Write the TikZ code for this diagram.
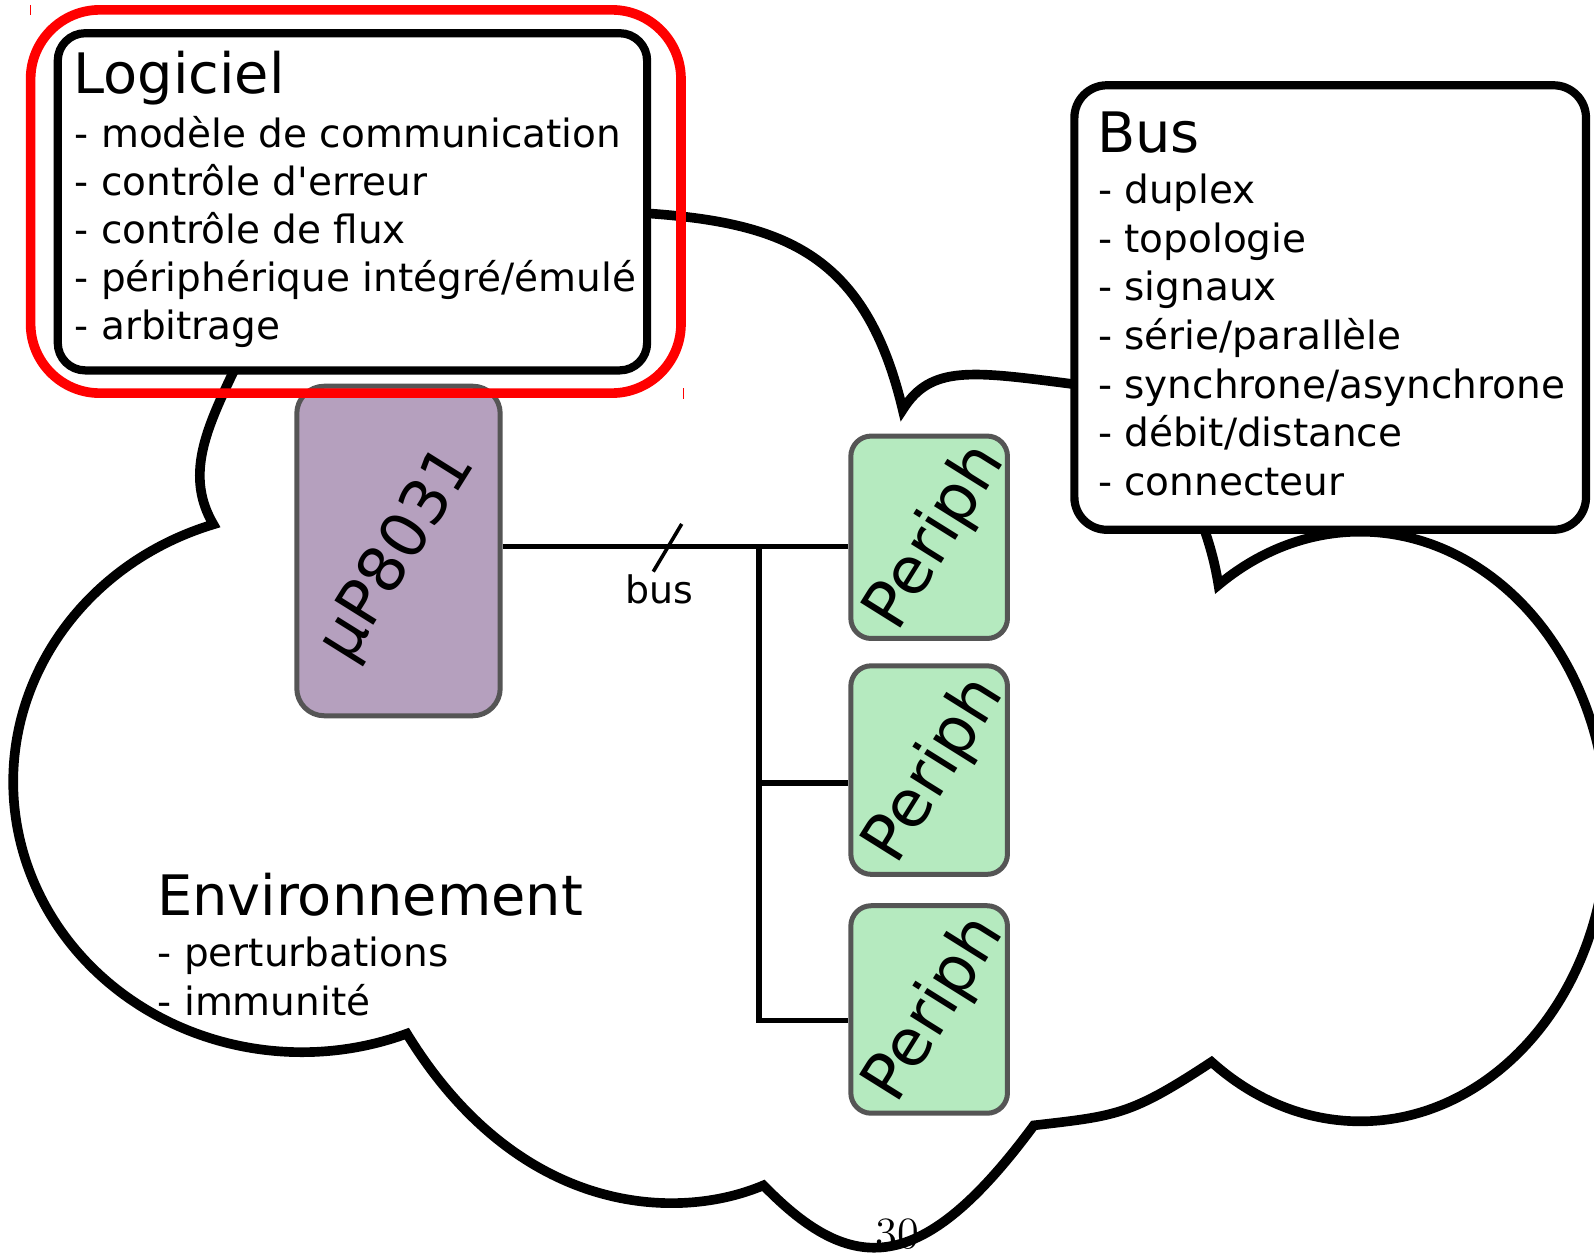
\documentclass[tikz,border=0pt]{standalone}
\usepackage{fontspec}
\newfontfamily\dv[Ligatures=TeXOff]{DejaVu Sans}
\definecolor{mupurple}{RGB}{181,160,190}
\definecolor{pgreen}{RGB}{181,234,191}
\definecolor{bordergray}{RGB}{85,85,85}
\begin{document}
\begin{tikzpicture}[x=0.01cm,y=-0.01cm,
  cloudline/.style={line width=2.7pt, draw=black},
  callout/.style={draw=black, line width=2.3pt, fill=white, rounded corners=0.27cm, inner sep=0pt},
  chip/.style={draw=bordergray, line width=1.4pt, rounded corners=0.27cm, inner sep=0pt},
  wire/.style={line width=1.55pt, draw=black},
  head/.style={font=\dv\fontsize{15.6}{18}\selectfont, inner sep=0pt, anchor=base west},
  item/.style={font=\dv\fontsize{10.9}{13}\selectfont, inner sep=0pt, anchor=base west},
  rot/.style={font=\dv\fontsize{17.6}{20}\selectfont, inner sep=0pt, rotate=58}]
\useasboundingbox (0,0) rectangle (1568,1232);
\clip (0,0) rectangle (1568,1232);

% cloud
\draw[cloudline]
 (209.9,515.8) .. controls (111.4,545.5) and (38.0,623.1) .. (18.2,718.2)
 .. controls (-1.5,813.4) and (35.5,911.0) .. (114.9,973.2)
 .. controls (194.4,1035.3) and (303.7,1052.1) .. (400.2,1016.8)
 .. controls (510,1196) and (666,1202) .. (751,1166)
 .. controls (837.6,1254.9) and (906.4,1256.9) .. (1017,1107)
 .. controls (1098.5,1097.6) and (1111.9,1097.2) .. (1191.8,1044.6)
 .. controls (1264.7,1110.2) and (1362.4,1121.5) .. (1444.5,1073.7)
 .. controls (1526.7,1025.8) and (1579.4,927.1) .. (1581.0,818.1)
 .. controls (1582.6,709.0) and (1532.8,608.2) .. (1452.1,557.0)
 .. controls (1371.4,505.7) and (1273.5,512.9) .. (1198.6,575.4)
 .. controls (1183,477) and (1116.5,385.7) .. (1057,378)
 .. controls (956,365) and (915.7,358.7) .. (888,403)
 .. controls (851.7,250.6) and (772.7,219.7) .. (639,210)
 .. controls (559,204) and (272,277) .. (229,367)
 .. controls (202.1,423.5) and (182.2,468.8) .. cycle;

% chips
\node[chip, fill=mupurple, minimum width=2.00cm, minimum height=3.24cm] (mu) at (392,542) {};
\node[chip, fill=pgreen, rounded corners=0.2cm, minimum width=1.54cm, minimum height=1.99cm] (p1) at (914,528.5) {};
\node[chip, fill=pgreen, rounded corners=0.2cm, minimum width=1.54cm, minimum height=2.05cm] (p2) at (914,757.5) {};
\node[chip, fill=pgreen, rounded corners=0.2cm, minimum width=1.54cm, minimum height=2.04cm] (p3) at (914,993) {};

\node[rot] (mut) at (392,546) {µP8031};
\node[rot, font=\dv\fontsize{18.2}{20}\selectfont] (p1t) at (921,529) {Periph};
\node[rot, font=\dv\fontsize{18.2}{20}\selectfont] (p2t) at (920,758) {Periph};
\node[rot, font=\dv\fontsize{18.2}{20}\selectfont] (p3t) at (920,993) {Periph};

% bus wiring
\coordinate (j1) at (746.8,537.4);
\coordinate (j2) at (746.8,770);
\coordinate (j3) at (746.8,1004);
\draw[wire] (mu.east |- j1) -- (p1.west |- j1);
\draw[wire] (j1) -- (j3) -- (p3.west |- j3);
\draw[wire] (j2) -- (p2.west |- j2);
\coordinate (tk1) at (642.6,562.3);
\coordinate (tk2) at (670.6,515.4);
\draw[line width=1pt] (tk1) -- (tk2);
\node[item, font=\dv\fontsize{10.6}{13}\selectfont] (buslbl) at (614.6,593.5) {bus};

% callouts
\node[callout, minimum width=5.794cm, minimum height=3.315cm] (logbox) at (346.7,198.5) {};
\node[callout, rounded corners=0.32cm, minimum width=5.03cm, minimum height=4.37cm] (busbox) at (1308.5,302.5) {};
\node[draw=red, line width=2.7pt, rounded corners=0.68cm, minimum width=6.394cm, minimum height=3.768cm, inner sep=0pt] (sel) at (350,198.2) {};
\coordinate (rk1a) at (29.9,4.9);
\coordinate (rk1b) at (29.9,14.8);
\coordinate (rk2a) at (672,382);
\coordinate (rk2b) at (672,392);
\draw[red, line width=0.35pt] (rk1a) -- (rk1b);
\draw[red, line width=0.35pt] (rk2a) -- (rk2b);

% Logiciel texts
\node[head] (logh) at (71.5,91.8) {Logiciel};
\node[item] (l1) at (72.8,144.6) {- modèle de communication};
\node[item] (l2) at (72.8,192.0) {- contrôle d'erreur};
\node[item] (l3) at (72.8,239.4) {- contrôle de flux};
\node[item] (l4) at (72.8,286.8) {- périphérique intégré/émulé};
\node[item] (l5) at (72.8,334.2) {- arbitrage};

% Bus texts
\node[head] (bush) at (1078.7,149.8) {Bus};
\node[item] (b1) at (1079.5,200.0) {- duplex};
\node[item] (b2) at (1079.5,247.9) {- topologie};
\node[item] (b3) at (1079.5,295.8) {- signaux};
\node[item] (b4) at (1079.5,343.7) {- série/parallèle};
\node[item] (b5) at (1079.5,391.5) {- synchrone/asynchrone};
\node[item] (b6) at (1079.5,439.4) {- débit/distance};
\node[item] (b7) at (1079.5,487.3) {- connecteur};

% Environnement texts
\node[head] (envh) at (153.8,901) {Environnement};
\node[item] (e1) at (154.5,951) {- perturbations};
\node[item] (e2) at (154.5,999) {- immunité};

% page number
\node[font=\fontsize{12.5}{15}\selectfont, inner sep=0pt, anchor=base] (pg) at (883,1228) {30};
\end{tikzpicture}
\end{document}
